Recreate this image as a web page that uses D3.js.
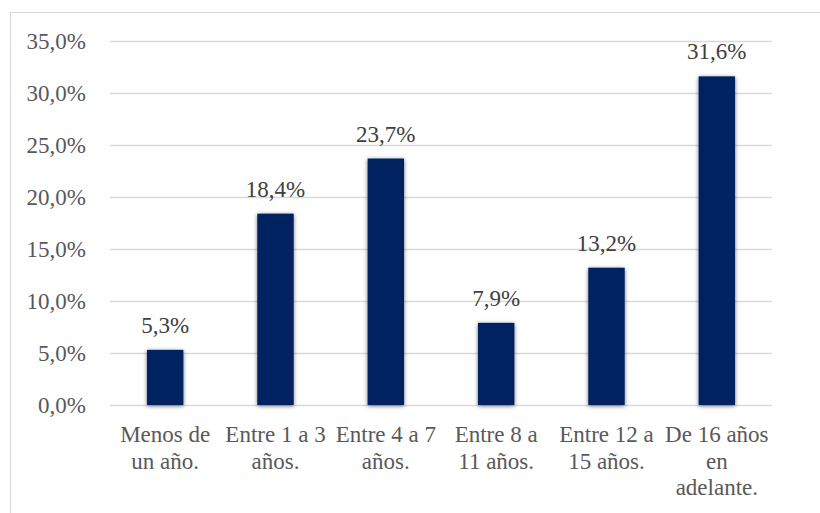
<!DOCTYPE html>
<html>
<head>
<meta charset="utf-8">
<script src="https://cdn.jsdelivr.net/npm/d3@7"></script>
<style>
  body { margin: 0; background: #fff; }
  svg { display: block; }
  svg text { font-family: "Liberation Serif", "Times New Roman", Times, "DejaVu Serif", serif; }
</style>
</head>
<body>
<div id="container"></div>
<script>
let w = 820;
let h = 513;

// data
let categories = [
  ["Menos de", "un año."],
  ["Entre 1 a 3", "años."],
  ["Entre 4 a 7", "años."],
  ["Entre 8 a", "11 años."],
  ["Entre 12 a", "15 años."],
  ["De 16 años", "en", "adelante."]
];
let values = [5.3, 18.4, 23.7, 7.9, 13.2, 31.6];
let yTicks = [0, 5, 10, 15, 20, 25, 30, 35];

let plotLeft = 110, plotRight = 772, plotTop = 41, plotBottom = 405;

let viz = d3.select("#container").append("svg")
    .attr("width", w)
    .attr("height", h);

// shadow for the bars
let defs = viz.append("defs");
let f = defs.append("filter").attr("id", "shadow")
    .attr("x", "-30%").attr("y", "-10%").attr("width", "160%").attr("height", "120%");
f.append("feDropShadow")
    .attr("dx", 0).attr("dy", 1).attr("stdDeviation", 2)
    .attr("flood-color", "#000").attr("flood-opacity", 0.55);

// chart frame
viz.append("rect")
    .attr("x", 10.5).attr("y", 12.5)
    .attr("width", 830).attr("height", 520)
    .attr("fill", "none")
    .attr("stroke", "#d9d9d9");

let xScale = d3.scaleBand()
    .domain(d3.range(categories.length))
    .range([plotLeft, plotRight])
    .paddingInner(0.67)
    .paddingOuter(0.335);

let yScale = d3.scaleLinear()
    .domain([0, 35])
    .range([plotBottom, plotTop]);

// gridlines
viz.selectAll(".grid").data(yTicks).enter()
  .append("line")
    .attr("class", "grid")
    .attr("x1", plotLeft).attr("x2", plotRight)
    .attr("y1", d => Math.round(yScale(d)) + 0.5)
    .attr("y2", d => Math.round(yScale(d)) + 0.5)
    .attr("stroke", "#d9d9d9")
    .attr("stroke-width", 1.5);

// y labels
let fmt = d => d.toFixed(1).replace(".", ",") + "%";
viz.selectAll(".ylab").data(yTicks).enter()
  .append("text")
    .attr("class", "ylab")
    .attr("x", 86)
    .attr("y", d => yScale(d) + 8)
    .attr("text-anchor", "end")
    .attr("font-size", 23)
    .attr("fill", "#595959")
    .text(fmt);

// bars
viz.selectAll(".bar").data(values).enter()
  .append("rect")
    .attr("class", "bar")
    .attr("x", (d, i) => xScale(i))
    .attr("y", d => yScale(d))
    .attr("width", xScale.bandwidth())
    .attr("height", d => plotBottom - yScale(d))
    .attr("fill", "#002060")
    .attr("filter", "url(#shadow)");

// value labels
viz.selectAll(".vlab").data(values).enter()
  .append("text")
    .attr("class", "vlab")
    .attr("x", (d, i) => xScale(i) + xScale.bandwidth() / 2)
    .attr("y", d => yScale(d) - 17)
    .attr("text-anchor", "middle")
    .attr("font-size", 23)
    .attr("fill", "#404040")
    .text(fmt);

// category labels
let cat = viz.selectAll(".xlab").data(categories).enter()
  .append("text")
    .attr("class", "xlab")
    .attr("text-anchor", "middle")
    .attr("font-size", 23)
    .attr("fill", "#595959");
cat.each(function(lines, i) {
  let cx = xScale(i) + xScale.bandwidth() / 2;
  d3.select(this).selectAll("tspan").data(lines).enter()
    .append("tspan")
      .attr("x", cx)
      .attr("y", (d, j) => 442 + j * 26.5)
      .text(d => d);
});
</script>
</body>
</html>
